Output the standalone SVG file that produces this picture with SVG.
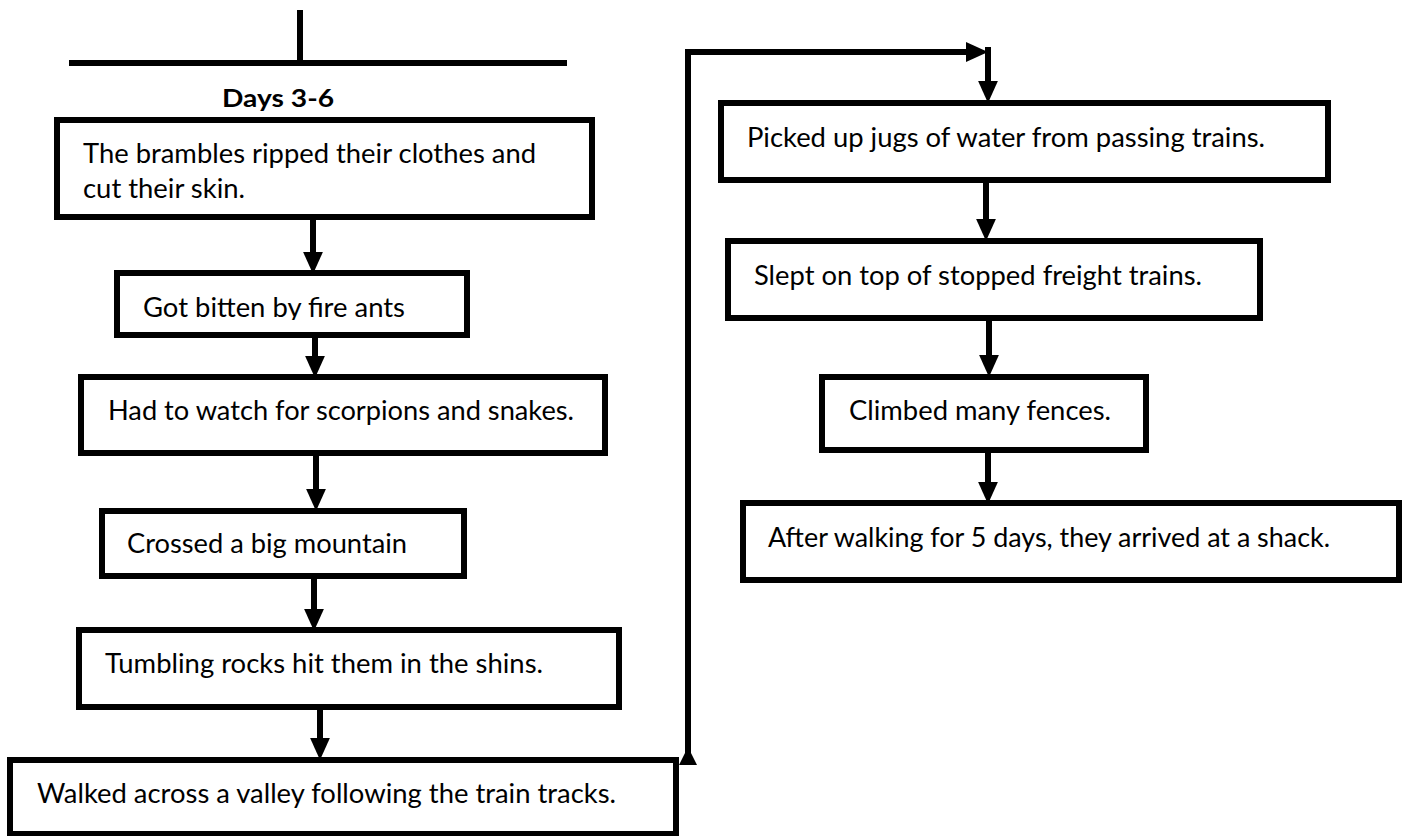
<svg xmlns="http://www.w3.org/2000/svg" width="1405" height="836" viewBox="0 0 1405 836">
<style>
.box{fill:#fff;stroke:#000;stroke-width:6}
.t{font-family:Lato,"Open Sans","Liberation Sans",sans-serif;font-size:26px;fill:#000}
.h{font-family:Lato,"Open Sans","Liberation Sans",sans-serif;font-size:25px;font-weight:bold;fill:#000}
.ln{stroke:#000;stroke-width:6;fill:none}
</style>
<defs>
<marker id="ah" markerUnits="userSpaceOnUse" markerWidth="22" markerHeight="20" refX="10" refY="9" orient="auto" viewBox="0 0 20 18">
<path d="M0,0 L20,9 L0,18 z" fill="#000"/>
</marker>
<clipPath id="c2"><rect x="100" y="270" width="380" height="50"/></clipPath>
</defs>
<g id="header">
<line class="ln" x1="300" y1="10" x2="300" y2="63"/>
<line class="ln" x1="69" y1="63" x2="567" y2="63"/>
<text class="h" x="222" y="107" textLength="112" lengthAdjust="spacingAndGlyphs">Days 3-6</text>
</g>
<g id="connectors">
<line class="ln" x1="313" y1="217" x2="313" y2="263" marker-end="url(#ah)"/>
<line class="ln" x1="315" y1="335" x2="315" y2="367" marker-end="url(#ah)"/>
<line class="ln" x1="316" y1="453" x2="316" y2="500" marker-end="url(#ah)"/>
<line class="ln" x1="314" y1="576" x2="314" y2="620" marker-end="url(#ah)"/>
<line class="ln" x1="320" y1="709" x2="320" y2="749" marker-end="url(#ah)"/>
<polyline class="ln" points="688,760 688,52 977,52" marker-end="url(#ah)"/>
<polygon points="679,765 697,765 688,747" fill="#000"/>
<line class="ln" x1="988" y1="47" x2="988" y2="92" marker-end="url(#ah)"/>
<line class="ln" x1="986" y1="180" x2="986" y2="230" marker-end="url(#ah)"/>
<line class="ln" x1="989" y1="318" x2="989" y2="366" marker-end="url(#ah)"/>
<line class="ln" x1="988" y1="450" x2="988" y2="493" marker-end="url(#ah)"/>
</g>
<g id="n1">
<rect class="box" x="57" y="120" width="535" height="97"/>
<text class="t" x="83" y="163" textLength="453" lengthAdjust="spacingAndGlyphs">The brambles ripped their clothes and</text>
<text class="t" x="83" y="198" textLength="162" lengthAdjust="spacingAndGlyphs">cut their skin.</text>
</g>
<g id="n2">
<rect class="box" x="117" y="273" width="350" height="62"/>
<text class="t" x="143" y="317" textLength="262" lengthAdjust="spacingAndGlyphs" clip-path="url(#c2)">Got bitten by fire ants</text>
</g>
<g id="n3">
<rect class="box" x="81" y="377" width="524" height="76"/>
<text class="t" x="108" y="420" textLength="466" lengthAdjust="spacingAndGlyphs">Had to watch for scorpions and snakes.</text>
</g>
<g id="n4">
<rect class="box" x="102" y="511" width="362" height="65"/>
<text class="t" x="127" y="553" textLength="280" lengthAdjust="spacingAndGlyphs">Crossed a big mountain</text>
</g>
<g id="n5">
<rect class="box" x="79" y="630" width="540" height="77"/>
<text class="t" x="105" y="673" textLength="438" lengthAdjust="spacingAndGlyphs">Tumbling rocks hit them in the shins.</text>
</g>
<g id="n6">
<rect class="box" x="10" y="760" width="666" height="74"/>
<text class="t" x="37" y="803" textLength="579" lengthAdjust="spacingAndGlyphs">Walked across a valley following the train tracks.</text>
</g>
<g id="n7">
<rect class="box" x="721" y="103" width="607" height="77"/>
<text class="t" x="747" y="147" textLength="518" lengthAdjust="spacingAndGlyphs">Picked up jugs of water from passing trains.</text>
</g>
<g id="n8">
<rect class="box" x="728" y="241" width="532" height="77"/>
<text class="t" x="754" y="285" textLength="448" lengthAdjust="spacingAndGlyphs">Slept on top of stopped freight trains.</text>
</g>
<g id="n9">
<rect class="box" x="822" y="377" width="324" height="73"/>
<text class="t" x="849" y="420" textLength="262" lengthAdjust="spacingAndGlyphs">Climbed many fences.</text>
</g>
<g id="n10">
<rect class="box" x="743" y="503" width="656" height="77"/>
<text class="t" x="768" y="547" textLength="562" lengthAdjust="spacingAndGlyphs">After walking for 5 days, they arrived at a shack.</text>
</g>
</svg>
